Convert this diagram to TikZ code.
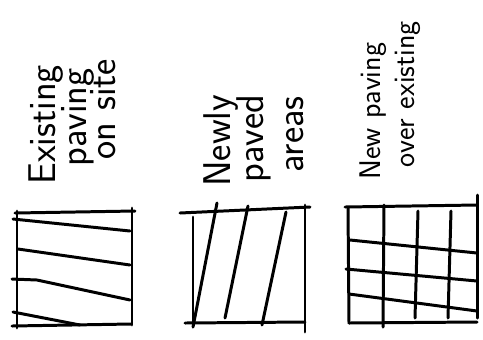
\documentclass[tikz,border=0pt]{standalone}
\usetikzlibrary{calc}

\begin{document}
\begin{tikzpicture}[x=0.02cm, y=-0.02cm, line cap=round, line join=round,
    sketch/.style={line width=1.7pt},
    label/.style={rotate=90, anchor=base west, inner sep=0pt,
                  font=\sffamily\fontsize{22}{24}\selectfont},
    small label/.style={label, font=\sffamily\fontsize{17}{19}\selectfont}]
  % --- page frame (pixel grid, y downwards) ---
  \useasboundingbox (0,0) rectangle (483,339);

  % --- captions, written upwards ---
  \node[label] (ex1) at (55,185)  {Existing};
  \node[label] (ex2) at (86,167)  {paving};
  \node[label] (ex3) at (115,160) {on site};

  \node[label] (nw1) at (230,187) {Newly};
  \node[label] (nw2) at (263,183) {paved};
  \node[label] (nw3) at (303,173) {areas};

  \node[small label] (ov1) at (380,180) {New paving};
  \node[small label] (ov2) at (414,168) {over existing};

  % --- box 1: existing paving ---
  \draw[sketch] (15,213) -- (135,211);
  \draw[sketch] (17,211) -- (17,328);
  \draw[sketch] (132,208) -- (132,325);
  \draw[sketch] (12,326) -- (131,324);
  \draw[sketch] (13,219) -- (130,231);
  \draw[sketch] (18,249) -- (130,265);
  \draw[sketch] (12,279) -- (37,280) -- (130,300);
  \draw[sketch] (13,312) -- (80,325);

  % --- box 2: newly paved areas ---
  \draw[sketch] (180,213) -- (310,207);
  \draw[sketch] (193,217) -- (193,327);
  \draw[sketch] (305,205) -- (305,332);
  \draw[sketch] (185,323) -- (305,322);
  \foreach \xa/\ya/\xb/\yb in {217/203/193/327, 248/206/225/318, 286/212/262/325}
    \draw[sketch] (\xa,\ya) -- (\xb,\yb);

  % --- box 3: new paving over existing ---
  \draw[sketch] (345,207) -- (477,205);
  \draw[sketch] (348,208) -- (349,323);
  \draw[sketch] (477,195) -- (477,318);
  \draw[sketch] (349,323) -- (477,322);
  \foreach \xa/\ya/\xb/\yb in {384/205/383/327, 418/211/415/318, 451/211/448/318}
    \draw[sketch] (\xa,\ya) -- (\xb,\yb);
  \foreach \xa/\ya/\xb/\yb in {350/240/477/253, 346/269/477/281, 349/294/477/311}
    \draw[sketch] (\xa,\ya) -- (\xb,\yb);
\end{tikzpicture}
\end{document}
